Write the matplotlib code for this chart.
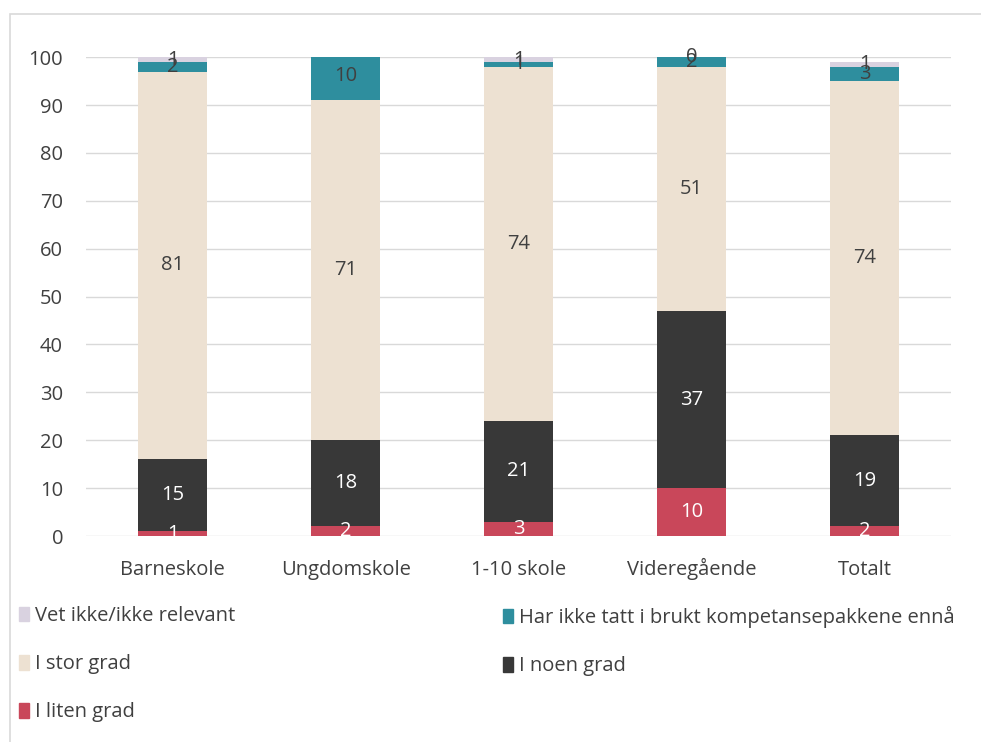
import numpy as np
import matplotlib
matplotlib.use("Agg")
from matplotlib import pyplot as plt
from matplotlib.patches import Rectangle, Patch

plt.rcParams['font.family'] = ['Open Sans', 'DejaVu Sans']

categories = ["Barneskole", "Ungdomskole", "1-10 skole", "Videregående", "Totalt"]
series_names = ["I liten grad", "I noen grad", "I stor grad",
                "Har ikke tatt i brukt kompetansepakkene ennå", "Vet ikke/ikke relevant"]
liten = [1, 2, 3, 10, 2]
noen = [15, 18, 21, 37, 19]
stor = [81, 71, 74, 51, 74]
har_ikke = [2, 10, 1, 2, 3]
vet_ikke = [1, 0, 1, 0, 1]
series = [liten, noen, stor, har_ikke, vet_ikke]
colors = ["#C9475A", "#383838", "#EDE1D2", "#2E8E9E", "#D9D2E0"]
text_colors = ["white", "white", "#404040", "#404040", "#404040"]

fs = 14.5

fig = plt.figure(figsize=(9.81, 7.42), dpi=100)
ax = fig.add_axes([0.0877, 0.2776, 0.882, 0.6454])

x = np.arange(len(categories))
bottom = np.zeros(len(categories))
for name, vals, col, tc in zip(series_names, series, colors, text_colors):
    vals = np.array(vals, dtype=float)
    ax.bar(x, vals, 0.4, bottom=bottom, color=col, label=name, zorder=3)
    for xi, b, v in zip(x, bottom, vals):
        c = b + v / 2
        if c <= 100:
            ax.text(xi, c, f"{int(v)}", ha="center", va="center", fontsize=fs,
                    color=tc, zorder=4)
    bottom += vals

ax.set_ylim(0, 100)
ax.set_xlim(-0.5, len(categories) - 0.5)
ax.set_yticks(range(0, 101, 10))
ax.set_xticks(x)
ax.set_xticklabels(categories, va="baseline")
ax.tick_params(length=0, labelsize=fs, colors="#404040")
ax.tick_params(axis="x", pad=28)
ax.tick_params(axis="y", pad=16.5)
ax.grid(axis="y", color="#D9D9D9", linewidth=1, zorder=0)
for s in ax.spines.values():
    s.set_visible(False)

# figure frame
fig.patches.append(Rectangle((10 / 981, -0.1), 1.2, 1 - 14 / 742 + 0.1,
                             transform=fig.transFigure, fill=False,
                             edgecolor="#D9D9D9", linewidth=1.2))

handles = {n: Patch(color=c) for n, c in zip(series_names, colors)}
col1 = ["Vet ikke/ikke relevant", "I stor grad", "I liten grad"]
col2 = ["Har ikke tatt i brukt kompetansepakkene ennå", "I noen grad"]
kw = dict(frameon=False, fontsize=fs, labelcolor="#404040", handlelength=0.5,
          handleheight=0.75, handletextpad=0.3, labelspacing=1.4,
          borderaxespad=0, borderpad=0)
leg1 = fig.legend([handles[n] for n in col1], col1, loc="upper left",
                  bbox_to_anchor=(19 / 981, 1 - 606 / 742), **kw)
leg2 = fig.legend([handles[n] for n in col2], col2, loc="upper left",
                  bbox_to_anchor=(503 / 981, 1 - 606 / 742), **kw)

fig.savefig("out.png", dpi=100)
